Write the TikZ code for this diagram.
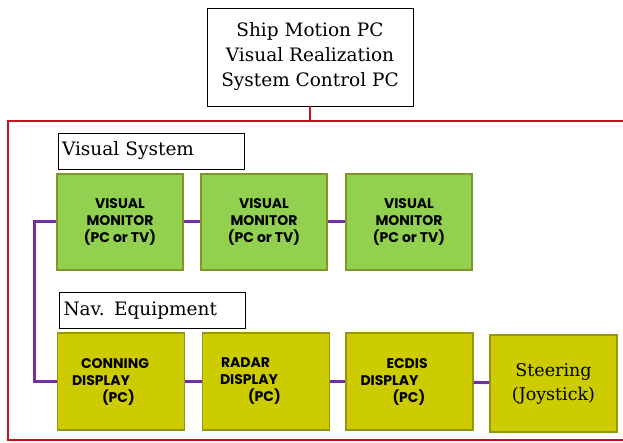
\documentclass[tikz,border=0pt]{standalone}
\usepackage{fontspec}
\setmainfont{DejaVu Serif}
\newfontfamily\boxfont{Poppins}
\usetikzlibrary{arrows}
\definecolor{shipred}{RGB}{200,16,30}
\definecolor{linkpurple}{RGB}{112,48,160}
\definecolor{visgreen}{RGB}{146,208,80}
\definecolor{visgreenline}{RGB}{130,150,40}
\definecolor{navyellow}{RGB}{204,204,0}
\definecolor{navyellowline}{RGB}{150,150,20}

\begin{document}
\begin{tikzpicture}[x=1pt,y=-1pt]
    \tikzset{ctrl/.style = {draw=black,fill=white,line width=0.8pt,align=center,
        font=\fontsize{18.5}{25}\selectfont,minimum width=206,minimum height=98}}
    \tikzset{grouplabel/.style = {draw=black,fill=white,line width=0.8pt,
        font=\fontsize{18.5}{20}\selectfont,text width=178,align=left,
        minimum height=36,inner sep=4pt}}
    \tikzset{monitor/.style = {draw=visgreenline,fill=visgreen,line width=1.5pt,
        align=center,font=\boxfont\bfseries\fontsize{14}{17}\selectfont,
        minimum width=126,minimum height=96}}
    \tikzset{display/.style = {draw=navyellowline,fill=navyellow,line width=1.5pt,
        align=left,font=\boxfont\bfseries\fontsize{14}{17}\selectfont,
        text width=98,minimum width=127,minimum height=97}}
    \tikzset{link/.style = {-,draw=linkpurple,line width=3pt}}
    \useasboundingbox (0,0) rectangle (623,443);
    % frame
    \draw[shipred,line width=2pt] (8,121) rectangle (640,440);
    \coordinate (frametop) at (310,121);
    % vertices
    \node[ctrl] (ctrl) at (310,57) {Ship Motion PC\\Visual Realization\\System Control PC};
    \node[grouplabel] (vis) at (151,151) {Visual System};
    \node[monitor] (v1) at (120,222) {VISUAL\\MONITOR\\(PC or TV)};
    \node[monitor] (v2) at (264,222) {VISUAL\\MONITOR\\(PC or TV)};
    \node[monitor] (v3) at (409,222) {VISUAL\\MONITOR\\(PC or TV)};
    \node[grouplabel] (nav) at (152.5,310.5) {Nav. Equipment};
    \node[display] (conning) at (121,381.5) {\hspace*{9pt}CONNING\\DISPLAY\\\hspace*{30pt}(PC)};
    \node[display] (radar) at (266,381.5) {\hspace*{4pt}RADAR\\\hspace*{3pt}DISPLAY\\\hspace*{31pt}(PC)};
    \node[display] (ecdis) at (409.5,381.5) {\hspace*{26pt}ECDIS\\DISPLAY\\\hspace*{32pt}(PC)};
    \node[display,fill=navyellow,align=center,text width=,
        font=\fontsize{17.5}{24}\selectfont] (steer) at (553.5,383.5) {Steering\\(Joystick)};

    %edges
    \draw[shipred,line width=2pt] (ctrl) -- (frametop);
    \draw[link] (v1) edge (v2);
    \draw[link] (v2) edge (v3);
    \draw[link] (v1.west) -- ++(-22,0) |- (conning.west);
    \draw[link] (conning) edge (radar);
    \draw[link] (radar) edge (ecdis);
    \draw[link] (ecdis) edge (steer);
\end{tikzpicture}
\end{document}
